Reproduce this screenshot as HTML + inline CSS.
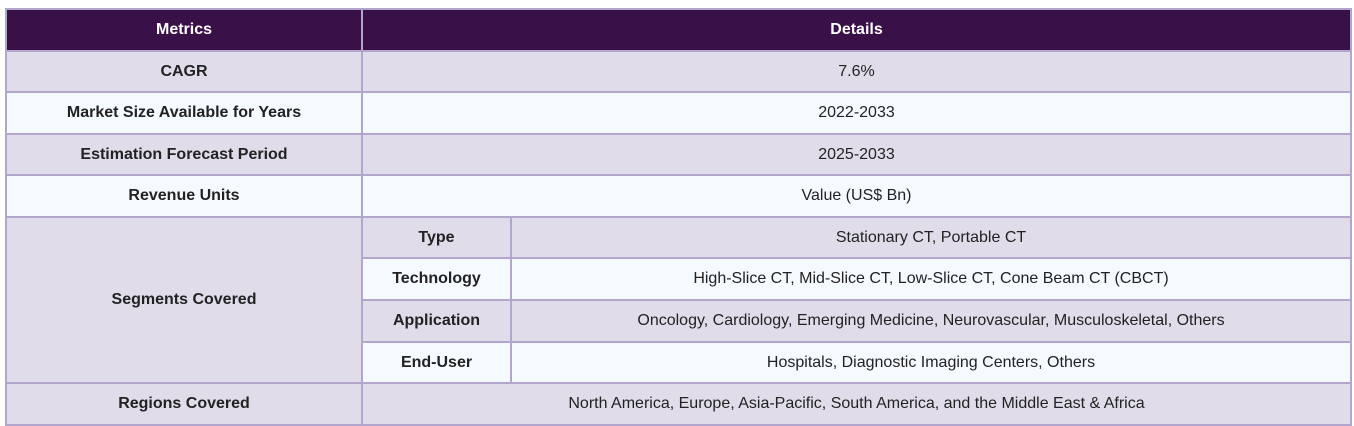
<!DOCTYPE html>
<html><head><meta charset="utf-8"><style>
body{margin:0;width:1354px;height:426px;background:#fff;position:relative;overflow:hidden;font-family:"Liberation Sans",sans-serif;}
.c{position:absolute;box-sizing:border-box;border:2px solid #b3a6cc;display:flex;align-items:center;justify-content:center;font-size:16px;color:#222;text-align:center;}
.b{font-weight:bold;}
.h{background:#3a1049;color:#fff;font-weight:bold;}
.l{background:#e0dcea;}
.w{background:#f5faff;}
</style></head><body>
<div id="t"></div>
<script>
var ys=[8,50,91,133,174,216,257,299,341,382,424];
var X0=5,X1=361,X2=510,X3=1350;
var t=document.getElementById('t');
function cell(x0,x1,y0,y1,cls,txt,name){
  var d=document.createElement('div');
  d.className='c '+cls;
  d.style.left=x0+'px';d.style.top=y0+'px';
  d.style.width=(x1-x0+2)+'px';d.style.height=(y1-y0+2)+'px';
  d.textContent=txt;
  
  
  t.appendChild(d);
}
cell(X0,X1,ys[0],ys[1],'h','Metrics','header-metrics');
cell(X1,X3,ys[0],ys[1],'h','Details','header-details');
var rows=[['CAGR','7.6%','l'],['Market Size Available for Years','2022-2033','w'],['Estimation Forecast Period','2025-2033','l'],['Revenue Units','Value (US$ Bn)','w']];
rows.forEach(function(r,i){
  cell(X0,X1,ys[i+1],ys[i+2],r[2]+' b',r[0],'metric-label');
  cell(X1,X3,ys[i+1],ys[i+2],r[2],r[1],'metric-value');
});
cell(X0,X1,ys[5],ys[9],'l b','Segments Covered','segments-label');
var segs=[['Type','Stationary CT, Portable CT','l'],['Technology','High-Slice CT, Mid-Slice CT, Low-Slice CT, Cone Beam CT (CBCT)','w'],['Application','Oncology, Cardiology, Emerging Medicine, Neurovascular, Musculoskeletal, Others','l'],['End-User','Hospitals, Diagnostic Imaging Centers, Others','w']];
segs.forEach(function(r,i){
  cell(X1,X2,ys[i+5],ys[i+6],r[2]+' b',r[0],'segment-label');
  cell(X2,X3,ys[i+5],ys[i+6],r[2],r[1],'segment-value');
});
cell(X0,X1,ys[9],ys[10],'l b','Regions Covered','regions-label');
cell(X1,X3,ys[9],ys[10],'l','North America, Europe, Asia-Pacific, South America, and the Middle East & Africa','regions-value');
</script>
</body></html>
